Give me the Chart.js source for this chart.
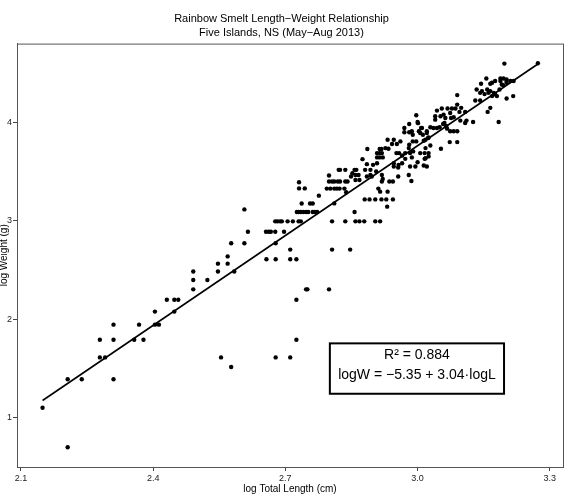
<!DOCTYPE html>
<html>
<head>
<meta charset="utf-8">
<title>Rainbow Smelt Length-Weight Relationship</title>
<script src="https://cdn.jsdelivr.net/npm/chart.js@4.4.1/dist/chart.umd.min.js"></script>
<style>
  html, body { margin: 0; padding: 0; background: #fff; }
  #wrap { width: 572px; height: 497px; }
</style>
</head>
<body>
<div id="wrap"><canvas id="chart" width="572" height="497"></canvas></div>
<script>
// log total length (cm) and log weight (g)
const logLength = [
  2.149, 2.206, 2.206, 2.238, 2.310, 2.279, 2.291, 2.279, 2.310, 2.310,
  2.357, 2.378, 2.368, 2.404, 2.413, 2.404, 2.448, 2.431, 2.448, 2.457,
  2.491, 2.491, 2.491, 2.523, 2.547, 2.547, 2.554, 2.577, 2.678, 2.711,
  2.725, 2.725, 2.747, 2.750, 2.799, 2.569, 2.569, 2.584, 2.577, 2.607,
  2.615, 2.607, 2.656, 2.662, 2.667, 2.677, 2.697, 2.678, 2.657, 2.678,
  2.711, 2.711, 2.725,
  2.677, 2.682, 2.688, 2.692, 2.705, 2.717, 2.730, 2.735,
  2.726, 2.730, 2.735, 2.741, 2.747, 2.752, 2.762, 2.767, 2.772,
  2.737, 2.756, 2.762, 2.776, 2.731, 2.744, 2.731,
  2.806, 2.847,
  2.806, 2.836, 2.859, 2.868, 2.879, 2.904, 2.915,
  2.811, 2.857,
  2.880, 2.891, 2.904, 2.918, 2.929, 2.944,
  2.931, 2.915, 2.932,
  2.794, 2.802, 2.811, 2.817, 2.823, 2.834, 2.838,
  2.799, 2.806, 2.811, 2.819, 2.824, 2.836, 2.841, 2.799,
  2.821, 2.824, 2.836, 2.857, 2.861, 2.881, 2.893,
  2.859, 2.866, 2.893,
  2.849, 2.852, 2.859, 2.868, 2.885, 2.896, 2.906,
  2.919, 2.921, 2.919, 2.936, 2.944, 2.956, 2.911, 2.986,
  2.875, 2.885, 2.899, 2.908, 2.886, 2.914, 2.918,
  2.908, 2.914, 2.919, 2.927, 2.934, 2.908, 2.914, 2.921,
  2.932, 2.946, 2.942, 2.961, 2.953, 2.952, 2.958,
  2.946, 2.957, 2.965, 2.956, 2.946,
  2.965, 2.972, 2.972, 2.983, 2.987, 3.016, 3.016,
  2.983, 2.995, 3.000, 2.980, 3.021, 3.025,
  2.997, 2.981, 3.001, 2.970, 2.970, 2.981, 2.989, 3.008, 3.006, 3.021,
  3.024, 3.014, 2.997, 2.989, 2.981, 2.980, 3.000,
  3.156, 3.169, 3.144, 3.188, 3.195, 3.202,
  3.134, 3.142, 3.152, 3.161, 3.173, 3.180,
  3.186, 3.194, 3.202, 3.202, 3.090, 3.131, 3.142,
  3.090, 3.099, 3.165, 3.159, 3.184,
  3.044, 3.055, 3.068, 3.078, 3.086, 3.095, 3.108,
  3.040, 3.040, 3.052, 3.059, 3.063, 3.074, 3.076, 3.082,
  3.097, 3.111, 3.126,
  2.987, 3.003, 3.010, 3.012, 3.021, 3.025, 3.029, 3.036,
  3.044, 3.050, 3.058, 3.061, 3.065, 3.067, 3.074, 3.082, 3.090,
  3.073, 3.090, 3.053, 3.018, 3.029,
  2.990, 3.006, 3.018, 3.025, 3.018, 3.014, 3.108,
  3.197, 3.273,
  3.165, 3.176, 3.188, 3.202, 3.211, 3.218, 3.191,
  3.146, 3.158, 3.165, 3.176, 3.169, 3.217
]
const logWeight = [
  1.096, 0.693, 1.386, 1.386, 1.386, 1.609, 1.609, 1.789, 1.789, 1.943,
  1.789, 1.789, 1.943, 1.943, 1.943, 2.076, 2.076, 2.197, 2.197, 2.197,
  2.303, 2.398, 2.485, 2.398, 2.485, 2.565, 1.609, 1.512, 1.609, 1.609,
  1.789, 2.197, 2.303, 2.303, 2.303, 2.565, 2.639, 2.485, 2.773, 2.773,
  2.890, 3.118, 2.890, 2.890, 2.890, 2.890, 2.890, 2.773, 2.609, 2.609,
  2.708, 2.609, 2.609,
  2.996, 2.996, 2.996, 2.996, 2.996, 2.996, 2.996, 2.996,
  3.091, 3.091, 3.091, 3.091, 3.091, 3.091, 3.091, 3.091, 3.091,
  3.178, 3.178, 3.178, 3.258, 3.332, 3.332, 3.395,
  2.708, 2.708,
  2.996, 2.996, 2.996, 2.996, 2.996, 2.996, 2.996,
  3.179, 3.091,
  3.220, 3.220, 3.220, 3.220, 3.220, 3.220,
  3.146, 3.299, 3.299,
  3.330, 3.330, 3.330, 3.330, 3.330, 3.330, 3.292,
  3.402, 3.402, 3.402, 3.402, 3.402, 3.402, 3.402, 3.463,
  3.521, 3.521, 3.521, 3.521, 3.521, 3.521, 3.521,
  3.469, 3.469, 3.469,
  3.453, 3.487, 3.418, 3.418, 3.453, 3.453, 3.504,
  3.469, 3.428, 3.402, 3.402, 3.402, 3.453, 3.330, 3.408,
  3.630, 3.579, 3.572, 3.589, 3.733, 3.733, 3.733,
  3.692, 3.692, 3.692, 3.743, 3.736, 3.648, 3.648, 3.648,
  3.828, 3.828, 3.784, 3.811, 3.784, 3.692, 3.692,
  3.589, 3.572, 3.589, 3.545, 3.555,
  3.668, 3.692, 3.633, 3.692, 3.648, 3.692, 3.633,
  3.555, 3.555, 3.599, 3.469, 3.555, 3.692,
  4.078, 3.989, 3.997, 3.948, 3.904, 3.904, 3.879, 3.948, 3.897, 3.897,
  3.845, 3.818, 3.811, 3.811, 3.777, 3.743, 4.009,
  4.453, 4.409, 4.399, 4.426, 4.453, 4.443,
  4.340, 4.306, 4.293, 4.306, 4.306, 4.273,
  4.340, 4.385, 4.409, 4.248, 4.283, 4.228, 4.228,
  4.186, 4.153, 4.153, 4.112, 4.009,
  4.125, 4.146, 4.146, 4.146, 4.146, 4.112, 4.112,
  4.068, 4.033, 4.068, 4.084, 4.050, 4.101, 4.050, 4.057,
  4.023, 4.023, 4.009,
  3.914, 3.914, 3.948, 3.879, 3.914, 3.852, 3.955, 3.948,
  3.948, 3.955, 3.989, 3.999, 3.965, 3.941, 3.914, 3.914, 3.914,
  3.804, 3.804, 3.736, 3.828, 3.770,
  3.709, 3.692, 3.743, 3.658, 3.640, 3.566, 3.999,
  4.604, 4.607,
  4.399, 4.426, 4.453, 4.426, 4.426, 4.426, 4.391,
  4.324, 4.340, 4.324, 4.290, 4.273, 4.273
]

// fitted line logW = -5.35 + 3.04 logL, end points as drawn
const fitX = [2.149, 3.273]
const fitY = [1.17, 4.60]

const xTicks = [2.1, 2.4, 2.7, 3.0, 3.3]
const yTicks = [1, 2, 3, 4]

const titleLines = ['Rainbow Smelt Length\u2212Weight Relationship', 'Five Islands, NS (May\u2212Aug 2013)']
const statLines = ['R\u00b2 = 0.884', 'logW = \u22125.35 + 3.04\u00b7logL']

const FONT = "'Liberation Sans', Arial, sans-serif"

const points = logLength.map((x, i) => ({ x: x, y: logWeight[i] }))
const fitPoints = fitX.map((x, i) => ({ x: x, y: fitY[i] }))

// frame around the plot and the R² box
const framePlugin = {
  id: 'frame',
  afterDraw(chart) {
    const { ctx, chartArea } = chart
    const { left, top, width, height } = chartArea
    ctx.save()
    ctx.strokeStyle = '#555'
    ctx.lineWidth = 1
    ctx.strokeRect(left + 0.5, top + 0.5, width, height)

    const bx = left + width * 0.573
    const by = top + height * 0.708
    const bw = width * 0.319
    const bh = height * 0.119
    ctx.fillStyle = '#fff'
    ctx.fillRect(bx, by, bw, bh)
    ctx.strokeStyle = '#000'
    ctx.lineWidth = 2
    ctx.strokeRect(bx, by, bw, bh)
    ctx.fillStyle = '#000'
    ctx.font = '14px ' + FONT
    ctx.textAlign = 'center'
    ctx.textBaseline = 'middle'
    ctx.fillText(statLines[0], bx + bw / 2, by + 12)
    ctx.fillText(statLines[1], bx + bw / 2, by + 32)
    ctx.restore()
  }
}

const ctx = document.getElementById('chart').getContext('2d')
new Chart(ctx, {
  type: 'scatter',
  data: {
    datasets: [
      {
        data: fitPoints,
        showLine: true,
        borderColor: '#000',
        borderWidth: 1.6,
        pointRadius: 0,
        fill: false
      },
      {
        data: points,
        pointRadius: 2.2,
        pointBackgroundColor: '#000',
        pointBorderWidth: 0,
        borderWidth: 0
      }
    ]
  },
  options: {
    responsive: false,
    animation: false,
    layout: { padding: { right: 9 } },
    plugins: {
      legend: { display: false },
      tooltip: { enabled: false },
      title: {
        display: true,
        text: titleLines,
        color: '#000',
        font: { family: FONT, size: 11, weight: 'normal', lineHeight: 1.3 },
        padding: { top: 12, bottom: 3 }
      }
    },
    scales: {
      x: {
        type: 'linear',
        min: 2.091,
        max: 3.330,
        afterBuildTicks: (scale) => { scale.ticks = xTicks.map(v => ({ value: v })) },
        afterFit: (scale) => { scale.height = 30 },
        ticks: {
          color: '#222',
          padding: 2,
          font: { family: FONT, size: 9 },
          callback: (v) => Number(v).toFixed(1)
        },
        grid: { display: true, drawOnChartArea: false, drawTicks: true, tickLength: 4, color: '#444' },
        border: { display: true, color: '#555' },
        title: {
          display: true,
          text: 'log Total Length (cm)',
          color: '#000',
          font: { family: FONT, size: 10, lineHeight: 1.2 },
          padding: { top: 0, bottom: 2 }
        }
      },
      y: {
        type: 'linear',
        min: 0.492,
        max: 4.808,
        afterBuildTicks: (scale) => { scale.ticks = yTicks.map(v => ({ value: v })) },
        afterFit: (scale) => { scale.width = 17 },
        ticks: {
          color: '#222',
          padding: 1,
          font: { family: FONT, size: 9 },
          callback: (v) => String(v)
        },
        grid: { display: true, drawOnChartArea: false, drawTicks: true, tickLength: 4, color: '#444' },
        border: { display: true, color: '#555' },
        title: {
          display: true,
          text: 'log Weight (g)',
          color: '#000',
          font: { family: FONT, size: 10, lineHeight: 1 },
          padding: { top: -1, bottom: 0 }
        }
      }
    }
  },
  plugins: [framePlugin]
})
</script>
</body>
</html>
